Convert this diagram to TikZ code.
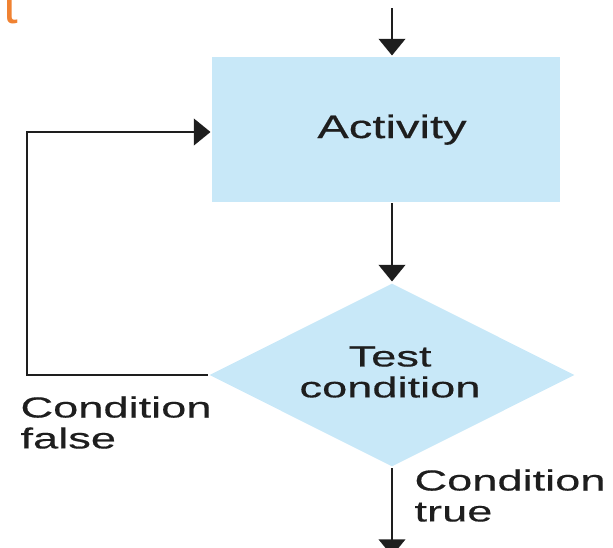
\documentclass[tikz,border=0pt]{standalone}
\usepackage{fontspec}
\setmainfont{Liberation Sans}[FakeStretch=1.45,FakeBold=0.4]
\newfontfamily\lblfont{Liberation Sans}[FakeStretch=1.56,FakeBold=0.4]
\newfontfamily\tagfont{Liberation Sans}
\usetikzlibrary{arrows.meta,shapes.geometric}
\definecolor{boxblue}{RGB}{200,232,248}
\definecolor{ink}{RGB}{30,30,30}
\definecolor{tagorange}{RGB}{240,130,50}
\begin{document}
\begin{tikzpicture}[x=0.02cm,y=-0.02cm,line width=1.7pt,
  conn/.style={draw=ink,-{Triangle[length=9.5pt,width=15pt]}},
  lbl/.style={font=\lblfont\fontsize{16.5}{17.6}\selectfont,text=ink,inner sep=0pt},
  shapebox/.style={fill=boxblue,draw=none,inner sep=0pt}]
\useasboundingbox (0,0) rectangle (613,548);
% cut-off orange letter at top left
\node[anchor=base west,inner sep=0pt,text=tagorange,font=\tagfont\fontsize{30}{32}\selectfont] (tag) at (2,23) {t};
% shapes
\node[shapebox,minimum width=6.96cm,minimum height=2.9cm] (act) at (386,129.5) {};
\node[shapebox,diamond,minimum width=7.32cm,minimum height=3.68cm] (dia) at (392,375) {};
% texts
\node[lbl,font=\fontsize{18.5}{20}\selectfont,anchor=north] (acttext) at (392,113) {Activity};
\node[lbl,align=center,anchor=north] (diatext) at (390,345) {Test\\condition};
\node[lbl,align=left,anchor=north west] (falsetext) at (19,395) {Condition\\false};
\node[lbl,align=left,anchor=north west] (truetext) at (413,468) {Condition\\true};
% connectors
\coordinate (in) at (392,8);
\coordinate (lc) at (27,132);
\coordinate (out) at (392,556);
\draw[conn] (in) -- (in |- act.north);
\draw[conn] (act.south -| dia.north) -- (dia.north);
\draw[conn] (dia.west) -| (lc) -- (lc -| act.west);
\draw[conn] (dia.south) -- (out);
\end{tikzpicture}
\end{document}
